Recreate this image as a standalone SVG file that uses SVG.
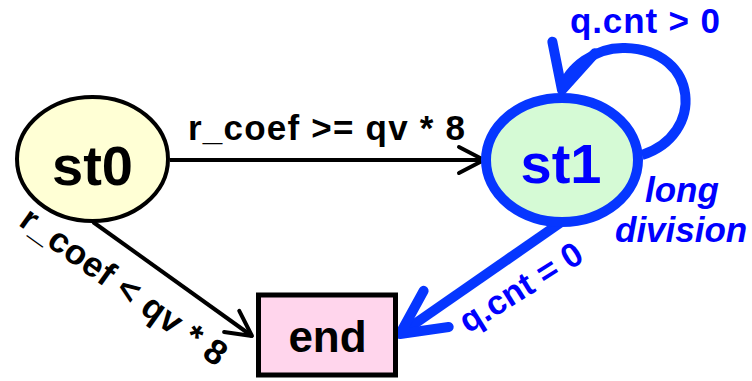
<svg xmlns="http://www.w3.org/2000/svg" width="752" height="381" viewBox="0 0 752 381">
  <style>
    .lbl { font-family: "Liberation Sans", Arial, sans-serif; font-weight: bold; }
    .state { font-size: 56px; text-anchor: middle; }
    .cond { font-size: 35px; }
    .blk { fill: #000000; }
    .blu { fill: #0000FF; }
    .edge-k { fill: none; stroke: #000000; stroke-width: 4; }
    .edge-b { fill: none; stroke: #0636FF; stroke-width: 10; }
  </style>
  <defs>
    <marker id="arrow-k" markerUnits="userSpaceOnUse" orient="auto" refX="0" refY="0"
            markerWidth="40" markerHeight="40" viewBox="-30 -20 40 40" overflow="visible">
      <path d="M-25,-13 L0,0 L-25,13" fill="none" stroke="#000000" stroke-width="4"
            stroke-linecap="round" stroke-linejoin="round"/>
    </marker>
    <marker id="arrow-b" markerUnits="userSpaceOnUse" orient="auto" refX="0" refY="0"
            markerWidth="70" markerHeight="70" viewBox="-55 -35 70 70" overflow="visible">
      <path d="M-44,-22 L0,0 L-44,22" fill="none" stroke="#0636FF" stroke-width="10"
            stroke-linecap="round" stroke-linejoin="round"/>
    </marker>
  </defs>

  <!-- transitions -->
  <g id="connectors">
    <line class="edge-k" x1="170" y1="160" x2="484" y2="160" marker-end="url(#arrow-k)"/>
    <line class="edge-k" x1="93" y1="222" x2="252" y2="336" marker-end="url(#arrow-k)"/>
    <line class="edge-b" x1="560" y1="223" x2="400" y2="334" marker-end="url(#arrow-b)"/>
    <path class="edge-b" d="M642,155 C705,135 700,50 625,48 C595,47 568,68 562,90" marker-end="url(#arrow-b)"/>

    <text class="lbl cond blk" x="188" y="140" textLength="277">r_coef &gt;= qv * 8</text>
    <text class="lbl cond blk" transform="translate(117,296) rotate(35.7)" text-anchor="middle"
          textLength="245">r_coef &lt; qv * 8</text>
    <text class="lbl cond blu" x="570" y="33" textLength="150">q.cnt &gt; 0</text>
    <text class="lbl blu" font-size="34" transform="translate(527,297) rotate(-32)" text-anchor="middle">q.cnt = 0</text>
    <text class="lbl blu" font-size="35" font-style="italic" x="645" y="202">long</text>
    <text class="lbl blu" font-size="35" font-style="italic" x="615" y="242">division</text>
  </g>

  <!-- states -->
  <g id="st0">
    <ellipse cx="92.5" cy="159" rx="75.5" ry="62" fill="#FFFFD5" stroke="#000000" stroke-width="4"/>
    <text class="lbl state blk" x="92.5" y="185">st0</text>
  </g>
  <g id="st1">
    <ellipse cx="562" cy="160" rx="76" ry="62" fill="#D5FAD5" stroke="#0636FF" stroke-width="10"/>
    <text class="lbl state blu" x="561" y="183">st1</text>
  </g>
  <g id="end">
    <rect x="258.5" y="295" width="137" height="80" fill="#FFD5EC" stroke="#000000" stroke-width="5"/>
    <text class="lbl blk" font-size="44" text-anchor="middle" x="327.5" y="352">end</text>
  </g>
</svg>
